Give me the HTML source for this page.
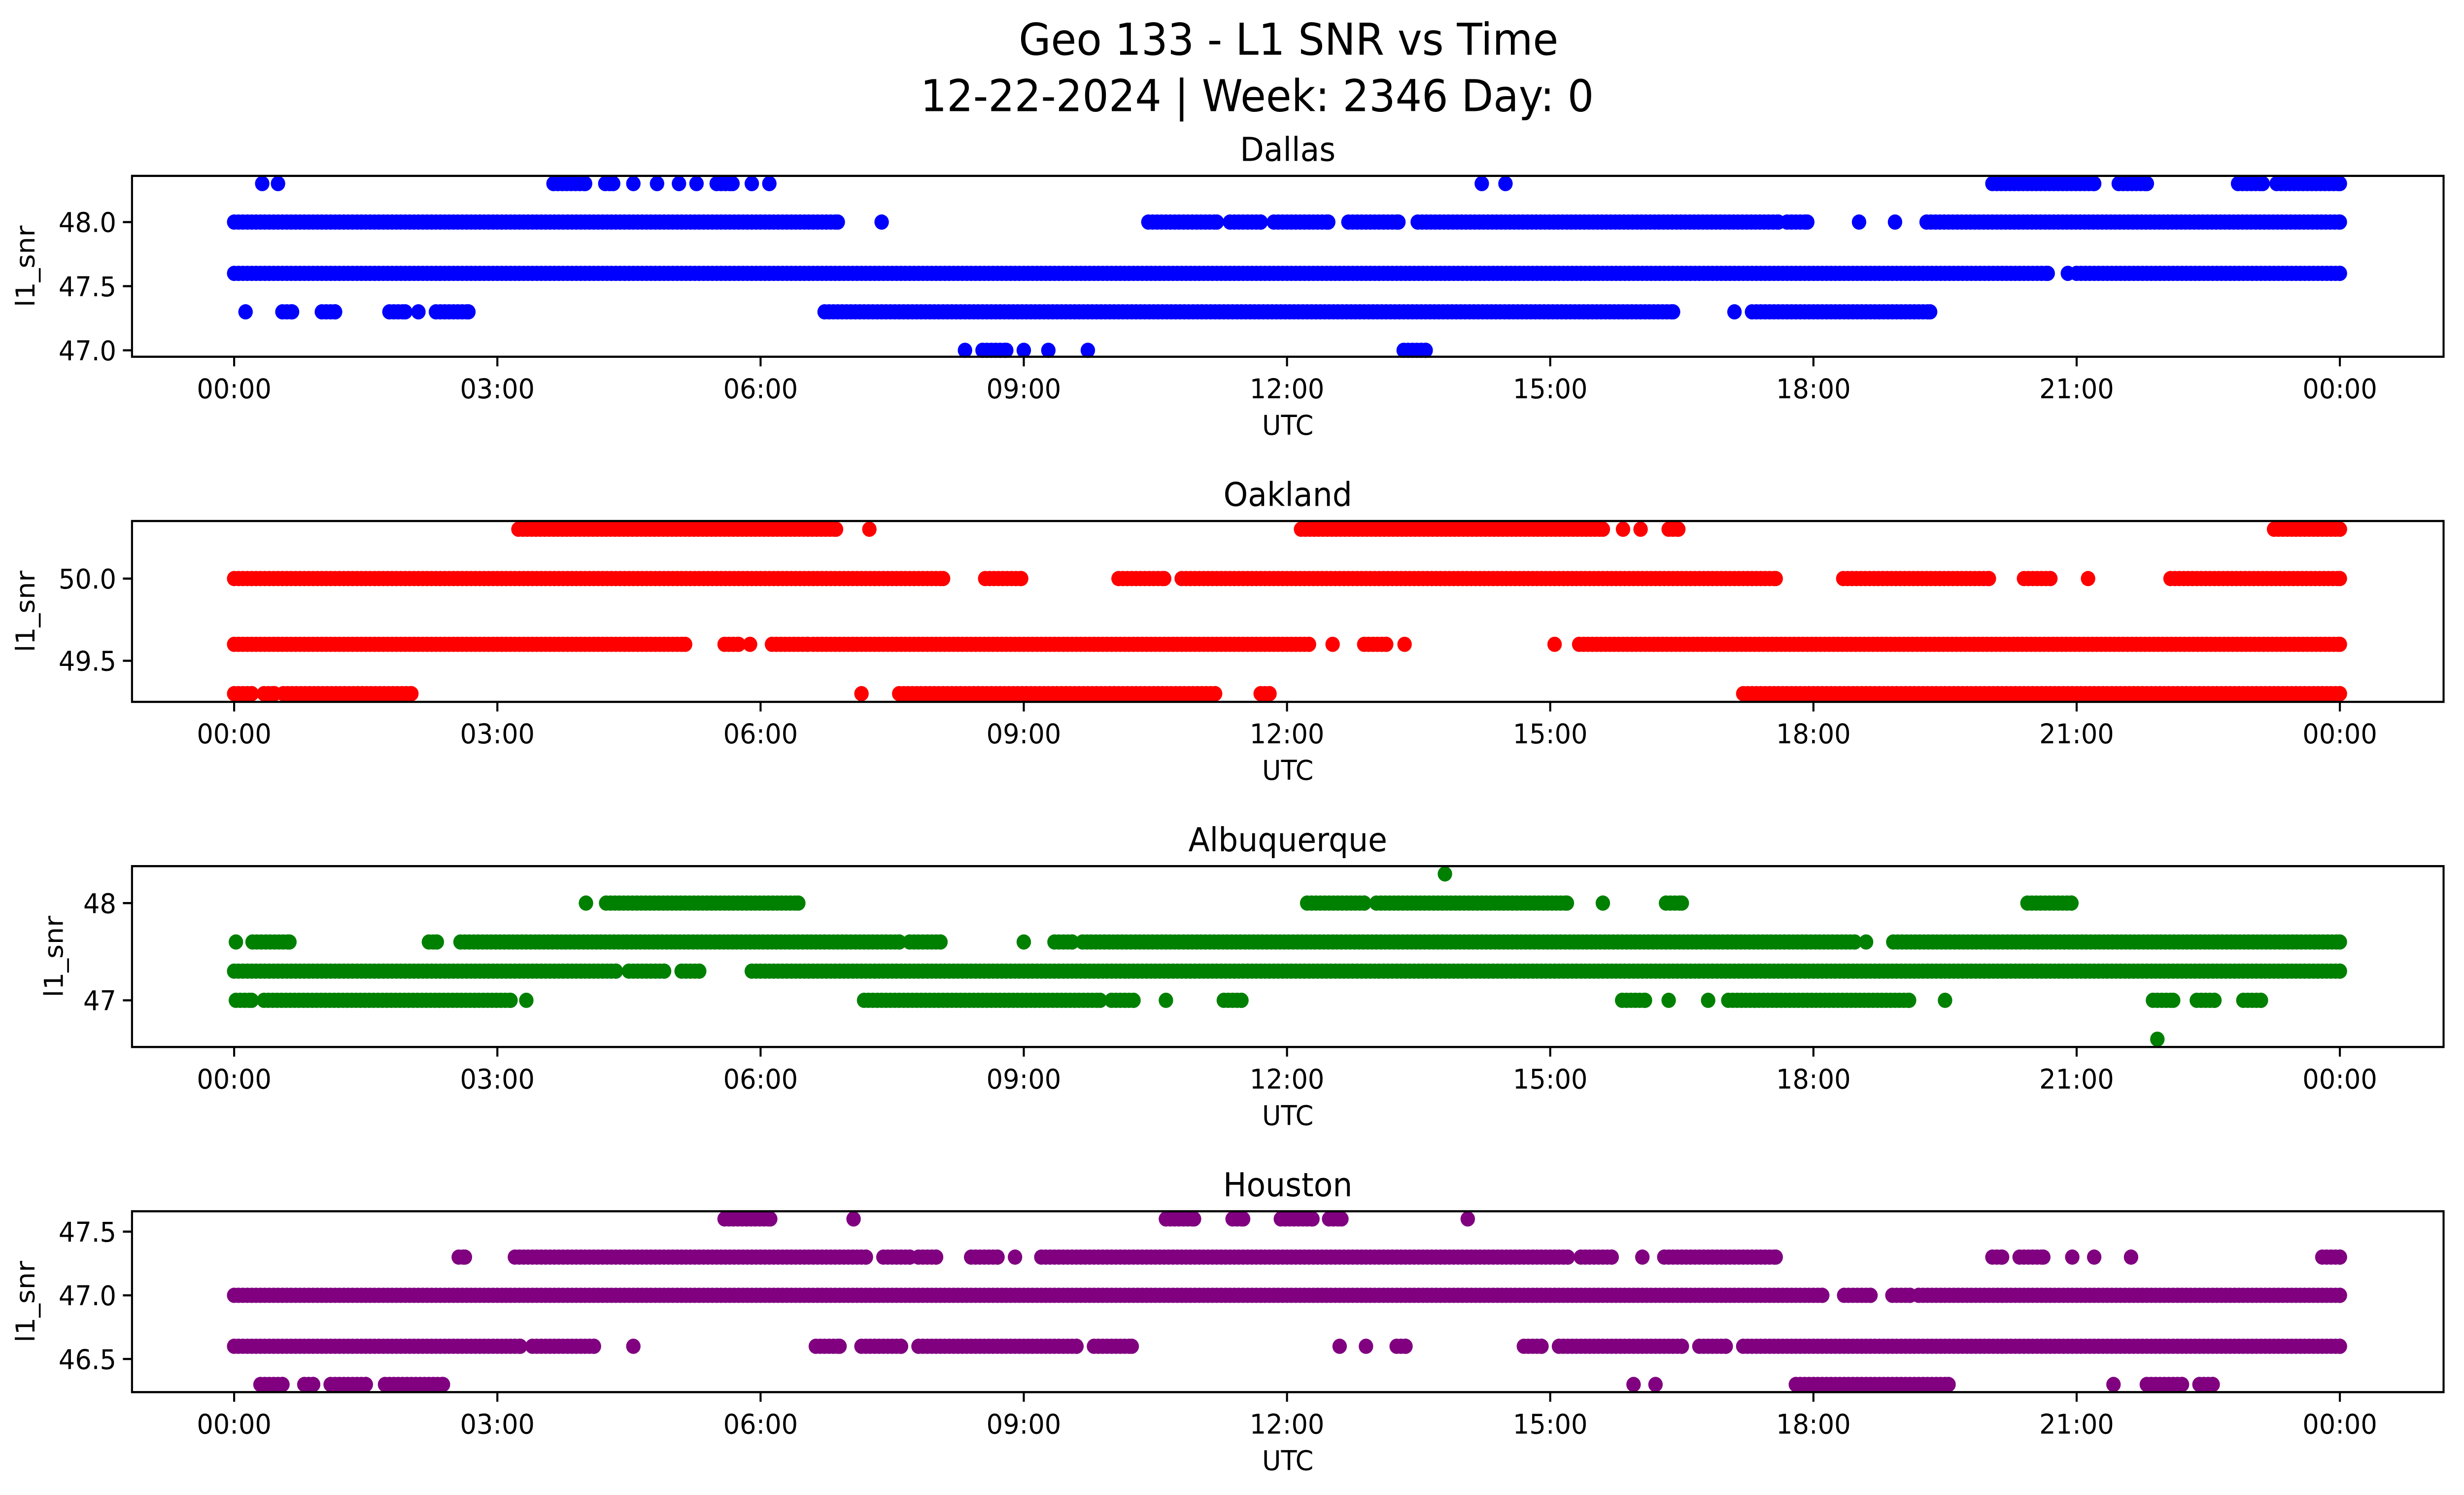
<!DOCTYPE html>
<html><head><meta charset="utf-8"><style>
html,body{margin:0;padding:0;background:#fff;overflow:hidden;width:100%;height:100%;}
svg{display:block;position:fixed;left:0;top:0;width:100vw;height:100vh;}
text{font-family:"DejaVu Sans","Liberation Sans",sans-serif;fill:#000;}
</style></head><body>
<svg id="fig" viewBox="0 0 1568 901" preserveAspectRatio="none" xmlns="http://www.w3.org/2000/svg">
<rect x="0" y="0" width="1568" height="901" fill="#fff"/>
<text x="820" y="33" font-size="26.4" text-anchor="middle">Geo 133 - L1 SNR vs Time</text>
<text x="800" y="67" font-size="26.4" text-anchor="middle">12-22-2024 | Week: 2346 Day: 0</text>
</svg>
<script>
// x tick labels (hours 0..24 step 3)
const xTickHours = [0,3,6,9,12,15,18,21,24];
const xTickLabels = ["00:00","03:00","06:00","09:00","12:00","15:00","18:00","21:00","00:00"];

// ---- Dallas ----
const dallasLevels = [48.3, 48.0, 47.6, 47.3, 47.0];
const dallasSegments = [
  [[0.32,0.32],[0.5,0.5],[3.64,4.0],[4.23,4.32],[4.55,4.55],[4.82,4.82],[5.07,5.07],[5.27,5.27],[5.5,5.68],[5.9,5.9],[6.1,6.1],[14.22,14.22],[14.49,14.49],[20.04,21.2],[21.48,21.8],[22.84,23.12],[23.28,24]],
  [[0,6.88],[7.38,7.38],[10.42,11.2],[11.35,11.7],[11.85,12.47],[12.7,13.27],[13.49,17.6],[17.7,17.93],[18.52,18.52],[18.93,18.93],[19.29,24]],
  [[0,20.67],[20.9,20.9],[21.0,24]],
  [[0.13,0.13],[0.55,0.66],[1.0,1.15],[1.77,1.95],[2.1,2.1],[2.3,2.67],[6.73,16.4],[17.1,17.1],[17.3,19.33]],
  [[8.33,8.33],[8.53,8.8],[9.0,9.0],[9.28,9.28],[9.73,9.73],[13.33,13.58]]
];
const dallasTicks = [47.0, 47.5, 48.0];
const dallasTickLabels = ["47.0","47.5","48.0"];

// ---- Oakland ----
const oaklandLevels = [50.3, 50.0, 49.6, 49.3];
const oaklandSegments = [
  [[3.24,6.86],[7.24,7.24],[12.16,15.6],[15.83,15.83],[16.03,16.03],[16.35,16.46],[23.25,24]],
  [[0,8.08],[8.56,8.97],[10.08,10.6],[10.8,17.57],[18.34,20.0],[20.4,20.7],[21.13,21.13],[22.07,24]],
  [[0,5.14],[5.59,5.75],[5.88,5.88],[6.13,6.54],[6.6,12.25],[12.52,12.52],[12.88,13.13],[13.34,13.34],[15.05,15.05],[15.33,24]],
  [[0,0.2],[0.34,0.46],[0.56,2.02],[7.15,7.15],[7.58,11.18],[11.7,11.8],[17.2,24]]
];
const oaklandTicks = [49.5, 50.0];
const oaklandTickLabels = ["49.5","50.0"];

// ---- Albuquerque ----
const albLevels = [48.3, 48.0, 47.6, 47.3, 47.0, 46.6];
const albSegments = [
  [[13.8,13.8]],
  [[4.01,4.01],[4.24,6.43],[12.23,12.88],[13.02,15.19],[15.6,15.6],[16.32,16.5],[20.44,20.94]],
  [[0.02,0.02],[0.21,0.63],[2.22,2.31],[2.58,7.58],[7.7,8.05],[9.0,9.0],[9.35,9.55],[9.67,18.47],[18.6,18.6],[18.91,24]],
  [[0,4.35],[4.5,4.9],[5.1,5.3],[5.9,24]],
  [[0.02,0.2],[0.34,3.15],[3.33,3.33],[7.18,9.87],[10.0,10.25],[10.62,10.62],[11.28,11.48],[15.82,16.08],[16.35,16.35],[16.8,16.8],[17.03,19.09],[19.5,19.5],[21.87,22.1],[22.37,22.57],[22.9,23.1]],
  [[21.92,21.92]]
];
const albTicks = [47, 48];
const albTickLabels = ["47","48"];

// ---- Houston ----
const houLevels = [47.6, 47.3, 47.0, 46.6, 46.3];
const houSegments = [
  [[5.59,6.11],[7.06,7.06],[10.62,10.94],[11.38,11.5],[11.93,12.29],[12.48,12.62],[14.06,14.06]],
  [[2.56,2.63],[3.2,7.2],[7.4,7.7],[7.8,8.0],[8.4,8.7],[8.9,8.9],[9.2,15.2],[15.35,15.7],[16.05,16.05],[16.3,17.57],[20.04,20.15],[20.35,20.62],[20.95,20.95],[21.2,21.2],[21.62,21.62],[23.8,24]],
  [[0,18.1],[18.35,18.65],[18.9,19.1],[19.2,24]],
  [[0,3.26],[3.4,4.1],[4.55,4.55],[6.63,6.9],[7.15,7.6],[7.8,9.6],[9.8,10.23],[12.6,12.6],[12.9,12.9],[13.25,13.35],[14.7,14.9],[15.1,16.5],[16.7,17.0],[17.2,24]],
  [[0.3,0.55],[0.8,0.9],[1.1,1.5],[1.72,2.38],[15.95,15.95],[16.2,16.2],[17.8,19.54],[21.42,21.42],[21.8,22.2],[22.4,22.55]]
];
const houTicks = [46.5, 47.0, 47.5];
const houTickLabels = ["46.5","47.0","47.5"];

const svg = document.getElementById('fig');
const NS = 'http://www.w3.org/2000/svg';
const AX_L = 84, AX_R = 1555, AX_H = 109;
function xScale(h){ return 149 + (1489-149) * h / 24; }
function mk(tag, attrs, parent){
  const e = document.createElementNS(NS, tag);
  for (const k in attrs) e.setAttribute(k, attrs[k]);
  parent.appendChild(e);
  return e;
}

const panels = [
  {name:'dallas', title:'Dallas', top:106, ymin:46.95, ymax:48.36, color:'#0000ff', levels:dallasLevels, segs:dallasSegments, ticks:dallasTicks, labels:dallasTickLabels, ylabX:22},
  {name:'oakland', title:'Oakland', top:314, ymin:49.25, ymax:50.35, color:'#ff0000', levels:oaklandLevels, segs:oaklandSegments, ticks:oaklandTicks, labels:oaklandTickLabels, ylabX:22},
  {name:'albuquerque', title:'Albuquerque', top:522, ymin:46.52, ymax:48.38, color:'#008000', levels:albLevels, segs:albSegments, ticks:albTicks, labels:albTickLabels, ylabX:40},
  {name:'houston', title:'Houston', top:730, ymin:46.24, ymax:47.66, color:'#800080', levels:houLevels, segs:houSegments, ticks:houTicks, labels:houTickLabels, ylabX:22}
];

panels.forEach(p => {
  const g = mk('g', {}, svg);
  
  
  const bottom = p.top + AX_H;
  const yScale = v => bottom - (v - p.ymin) / (p.ymax - p.ymin) * AX_H;

  const pts = mk('g', {fill:p.color}, g);
  
  
  p.levels.forEach((lv, i) => {
    const cy = yScale(lv);
    p.segs[i].forEach(seg => {
      const step = 0.05;
      for (let h = seg[0]; h <= seg[1] + 1e-9; h += step) {
        const c = mk('circle', {cx:xScale(h).toFixed(2), cy:cy.toFixed(2), r:4.6}, pts);
        
        
      }
      if (seg[1] - seg[0] > 0) {
        const c = mk('circle', {cx:xScale(seg[1]).toFixed(2), cy:cy.toFixed(2), r:4.6}, pts);
        
        
      }
    });
  });

  const fr = mk('rect', {x:AX_L, y:p.top, width:AX_R-AX_L, height:AX_H, fill:'none', stroke:'#000', 'stroke-width':1.3}, g);
  
  

  xTickHours.forEach((h, i) => {
    const x = xScale(h);
    const t = mk('line', {x1:x, x2:x, y1:bottom, y2:bottom+5.8, stroke:'#000', 'stroke-width':1.3}, g);
    
    
    const tl = mk('text', {x:x, y:bottom+25, 'font-size':16.5, 'text-anchor':'middle'}, g);
    tl.textContent = xTickLabels[i];
    
    
  });
  p.ticks.forEach((v, i) => {
    const y = yScale(v);
    const t = mk('line', {x1:AX_L-5.8, x2:AX_L, y1:y, y2:y, stroke:'#000', 'stroke-width':1.3}, g);
    
    
    const tl = mk('text', {x:AX_L-10, y:y+6, 'font-size':16.5, 'text-anchor':'end'}, g);
    tl.textContent = p.labels[i];
    
    
  });
  const xl = mk('text', {x:(AX_L+AX_R)/2, y:bottom+47, 'font-size':16.5, 'text-anchor':'middle'}, g);
  xl.textContent = 'UTC';
  
  
  const cy = p.top + AX_H/2;
  const yl = mk('text', {x:p.ylabX, y:cy, 'font-size':16.5, 'text-anchor':'middle', transform:'rotate(-90 '+p.ylabX+' '+cy+')'}, g);
  yl.textContent = 'l1_snr';
  
  
  const ti = mk('text', {x:(AX_L+AX_R)/2, y:p.top-9, 'font-size':19.8, 'text-anchor':'middle'}, g);
  ti.textContent = p.title;
  
  
});
</script>
</body></html>
